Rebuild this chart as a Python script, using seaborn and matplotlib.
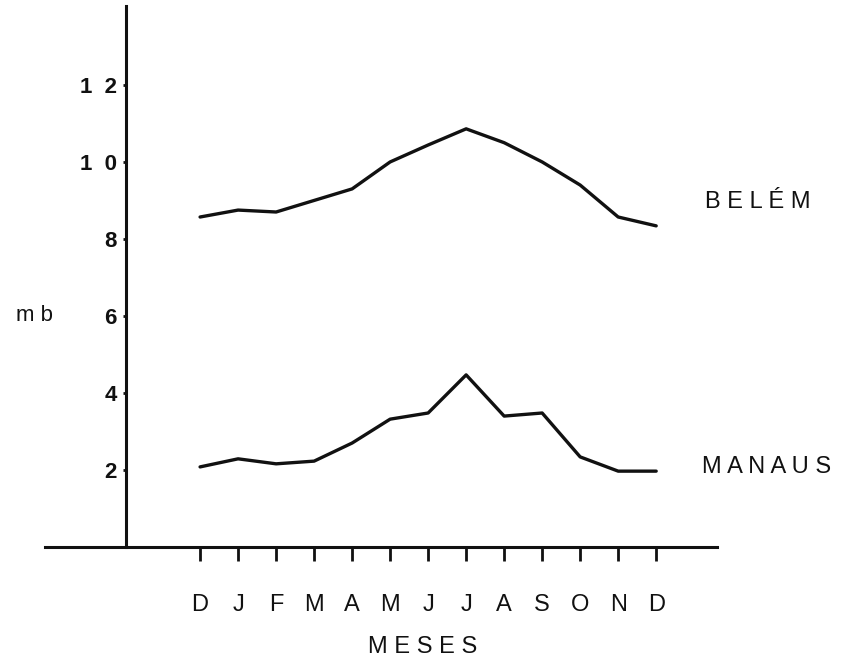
import numpy as np
import pandas as pd
import seaborn as sns
import matplotlib
matplotlib.use('Agg')
import matplotlib.pyplot as plt

# data (vapour pressure, mb)
meses = ['D', 'J', 'F', 'M', 'A', 'M', 'J', 'J', 'A', 'S', 'O', 'N', 'D']
belem = [8.57, 8.75, 8.70, 9.0, 9.3, 10.0, 10.44, 10.86, 10.5, 10.0, 9.4, 8.57, 8.34]
manaus = [2.08, 2.29, 2.16, 2.23, 2.70, 3.32, 3.48, 4.47, 3.40, 3.48, 2.34, 1.97, 1.97]
y_ticks = [2, 4, 6, 8, 10, 12]
y_labels = ['2', '4', '6', '8', '1  0', '1  2']

sns.set_style('white')
plt.rcParams['font.family'] = ['Liberation Sans', 'DejaVu Sans']

df = pd.DataFrame({
    'mes': list(range(len(meses))) * 2,
    'mb': belem + manaus,
    'cidade': ['BELÉM'] * len(meses) + ['MANAUS'] * len(meses),
})

W, H = 864, 663
fig = plt.figure(figsize=(W / 100, H / 100), dpi=100)
# axes box in pixels: x 45..717, y 6..547
ax = fig.add_axes([45 / W, (H - 547) / H, 672 / W, 541 / H])

sns.lineplot(data=df, x='mes', y='mb', hue='cidade', palette=['#111111', '#111111'],
             linewidth=2.4, legend=False, ax=ax, sort=False)

ax.set_xlim(-4.08, 13.6)
ax.set_ylim(0, 14.05)

ax.spines['top'].set_visible(False)
ax.spines['right'].set_visible(False)
ax.spines['left'].set_position(('data', -1.95))
ax.spines['left'].set_linewidth(2.2)
ax.spines['bottom'].set_linewidth(2.2)
ax.spines['left'].set_color('#111111')
ax.spines['bottom'].set_color('#111111')

ax.set_xticks(range(len(meses)))
ax.set_xticklabels(meses, fontsize=17)
ax.tick_params(axis='x', bottom=True, direction='out', length=10, width=2.0, pad=24,
               colors='#111111')

ax.set_yticks(y_ticks)
ax.set_yticklabels(y_labels, fontsize=16, fontweight='bold')
ax.tick_params(axis='y', left=True, direction='out', length=2.5, width=2.0, pad=4,
               colors='#111111')

ax.set_xlabel('M E S E S', fontsize=17, color='#111111')
ax.xaxis.set_label_coords(0.5625, -0.165)
ax.set_ylabel('m b', fontsize=16, rotation=0, color='#111111', va='center', ha='center')
ax.yaxis.set_label_coords(-0.016, 6 / 14.05)

ax.text(13.29, 8.96, 'B E L É M', fontsize=17, ha='left', va='center', color='#111111')
ax.text(13.2, 2.08, 'M A N A U S', fontsize=17, ha='left', va='center', color='#111111')

fig.savefig('out.png', dpi=100)
